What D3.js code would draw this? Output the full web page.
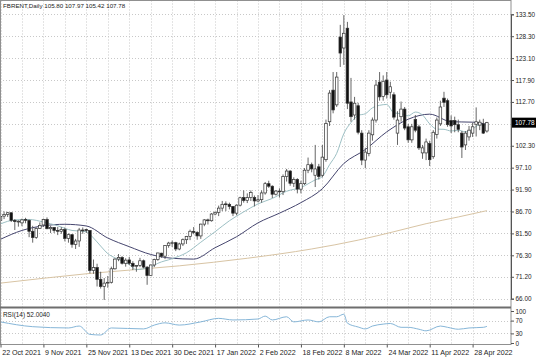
<!DOCTYPE html>
<html><head><meta charset="utf-8">
<script src="https://cdn.jsdelivr.net/npm/d3@7"></script>
<style>body{margin:0;background:#fff}svg{display:block}text{font-family:"Liberation Sans",Arial,sans-serif}</style>
</head><body><svg id="c" width="536" height="357"></svg>
<script>
// ---------- DATA ----------
const dates = [
"22 Oct 2021","25 Oct 2021","26 Oct 2021","27 Oct 2021","28 Oct 2021","29 Oct 2021",
"1 Nov 2021","2 Nov 2021","3 Nov 2021","4 Nov 2021","5 Nov 2021","8 Nov 2021","9 Nov 2021","10 Nov 2021","11 Nov 2021","12 Nov 2021",
"15 Nov 2021","16 Nov 2021","17 Nov 2021","18 Nov 2021","19 Nov 2021","22 Nov 2021","23 Nov 2021","24 Nov 2021","25 Nov 2021","26 Nov 2021","29 Nov 2021","30 Nov 2021",
"1 Dec 2021","2 Dec 2021","3 Dec 2021","6 Dec 2021","7 Dec 2021","8 Dec 2021","9 Dec 2021","10 Dec 2021","13 Dec 2021","14 Dec 2021","15 Dec 2021","16 Dec 2021","17 Dec 2021",
"20 Dec 2021","21 Dec 2021","22 Dec 2021","23 Dec 2021","24 Dec 2021","28 Dec 2021","29 Dec 2021","30 Dec 2021","31 Dec 2021",
"3 Jan 2022","4 Jan 2022","5 Jan 2022","6 Jan 2022","7 Jan 2022","10 Jan 2022","11 Jan 2022","12 Jan 2022","13 Jan 2022","14 Jan 2022",
"17 Jan 2022","18 Jan 2022","19 Jan 2022","20 Jan 2022","21 Jan 2022","24 Jan 2022","25 Jan 2022","26 Jan 2022","27 Jan 2022","28 Jan 2022","31 Jan 2022",
"1 Feb 2022","2 Feb 2022","3 Feb 2022","4 Feb 2022","7 Feb 2022","8 Feb 2022","9 Feb 2022","10 Feb 2022","11 Feb 2022","14 Feb 2022","15 Feb 2022","16 Feb 2022","17 Feb 2022","18 Feb 2022",
"21 Feb 2022","22 Feb 2022","23 Feb 2022","24 Feb 2022","25 Feb 2022","28 Feb 2022",
"1 Mar 2022","2 Mar 2022","3 Mar 2022","4 Mar 2022","7 Mar 2022","8 Mar 2022","9 Mar 2022","10 Mar 2022","11 Mar 2022","14 Mar 2022","15 Mar 2022","16 Mar 2022","17 Mar 2022","18 Mar 2022",
"21 Mar 2022","22 Mar 2022","23 Mar 2022","24 Mar 2022","25 Mar 2022","28 Mar 2022","29 Mar 2022","30 Mar 2022","31 Mar 2022",
"1 Apr 2022","4 Apr 2022","5 Apr 2022","6 Apr 2022","7 Apr 2022","8 Apr 2022","11 Apr 2022","12 Apr 2022","13 Apr 2022","14 Apr 2022",
"18 Apr 2022","19 Apr 2022","20 Apr 2022","21 Apr 2022","22 Apr 2022","25 Apr 2022","26 Apr 2022","27 Apr 2022","28 Apr 2022","29 Apr 2022",
"2 May 2022","3 May 2022","4 May 2022"];

const open = [84.6,85.6,86.0,86.4,84.6,84.2,84.0,84.8,84.6,82.0,80.5,82.7,83.5,84.8,82.6,82.9,82.2,82.0,82.4,80.3,81.2,78.9,79.7,82.3,82.4,82.2,72.7,73.4,70.6,68.9,
69.7,69.9,73.1,75.4,75.8,74.4,75.2,74.4,73.7,73.9,75.0,73.5,71.5,74.0,75.3,76.8,76.1,78.6,79.2,79.3,77.8,79.0,80.0,80.8,82.0,81.75,80.9,83.7,84.7,84.5,
86.1,86.5,87.5,88.5,88.4,87.9,86.3,88.2,90.0,89.3,90.0,90.0,89.2,89.5,91.1,93.3,92.7,90.8,91.55,91.4,95.0,96.3,93.4,94.3,92.0,93.3,96.5,97.8,95.3,97.3,
95.3,99.0,108.0,115.5,112.0,128.1,125.5,130.2,112.7,109.6,111.8,105.3,98.9,100.5,104.9,108.4,117.4,114.0,117.9,115.0,114.4,105.3,109.2,111.0,106.8,103.7,108.5,106.8,100.6,100.6,
102.8,99.7,105.0,107.5,113.6,113.0,108.3,108.3,107.3,105.3,102.5,104.4,105.3,107.4,107.2,107.5,105.80];
const high = [86.0,86.7,86.6,86.5,84.9,84.6,85.0,85.2,84.8,83.3,82.9,84.1,85.0,85.3,83.3,83.0,83.0,83.0,82.9,81.5,81.3,80.2,82.8,82.9,82.6,82.2,75.3,74.3,72.4,70.9,
71.4,73.6,75.6,76.6,76.1,75.6,75.9,74.9,74.0,75.7,75.3,73.7,74.1,75.5,76.9,76.9,78.7,79.5,79.8,79.5,79.3,80.3,80.9,82.4,83.0,82.0,83.8,84.9,85.0,86.3,
86.7,88.1,89.2,89.1,88.8,88.0,88.4,90.2,91.7,91.0,91.7,90.5,90.6,91.7,93.7,94.0,92.9,91.8,92.2,95.5,96.8,96.5,94.8,94.6,94.0,97.0,99.5,98.3,102.5,98.0,
102.5,108.5,115.5,119.8,119.8,131.0,133.3,131.7,118.4,113.9,112.5,106.0,101.8,106.0,109.0,117.9,119.8,119.0,119.8,117.5,115.0,110.5,112.8,111.5,107.5,107.5,109.6,107.3,102.5,104.0,
103.5,106.0,109.0,113.0,115.1,113.5,109.5,109.2,108.5,105.8,105.8,107.0,107.8,111.4,108.5,108.7,107.97];
const low = [84.3,84.9,85.4,84.2,82.3,83.1,83.2,83.9,80.6,79.3,80.2,82.6,83.0,82.5,81.6,81.6,81.1,81.4,79.6,79.3,78.1,77.8,78.3,81.4,81.6,72.0,71.9,68.9,68.4,65.7,
68.6,69.6,72.9,74.9,74.1,73.6,74.0,72.8,72.4,73.5,73.2,69.3,71.5,73.5,75.0,75.7,75.4,78.1,78.3,77.3,77.5,78.5,79.0,79.9,81.3,80.0,80.2,83.2,83.6,84.3,
85.8,85.6,86.8,86.8,87.2,85.6,85.8,87.9,88.8,88.7,89.2,87.9,88.9,88.8,90.7,92.3,89.9,90.5,90.0,90.6,93.8,92.8,92.5,91.0,91.0,93.0,95.8,96.0,92.5,94.3,
94.8,98.5,107.0,110.0,111.5,121.0,121.5,111.0,108.0,108.5,105.0,97.7,97.0,99.8,103.5,107.8,113.0,113.0,113.5,113.5,108.5,102.5,108.0,106.0,103.0,103.0,105.5,101.3,99.2,98.9,
97.5,99.2,104.0,107.0,111.5,106.8,105.3,105.5,105.5,99.4,101.3,103.5,104.4,104.5,106.0,105.1,105.42];
const close = [85.5,86.0,86.4,84.6,84.3,84.4,84.7,84.7,82.0,80.5,82.7,83.4,84.8,82.6,82.9,82.2,82.05,82.4,80.3,81.2,78.9,79.7,82.3,82.25,82.2,72.7,73.4,70.6,68.9,69.7,
69.9,73.1,75.4,75.8,74.4,75.15,74.4,73.7,73.9,75.0,73.5,71.5,74.0,75.3,76.85,76.1,78.6,79.2,79.3,77.8,79.0,80.0,80.8,82.0,81.75,80.9,83.7,84.7,84.5,86.1,
86.5,87.5,88.4,88.4,87.9,86.3,88.2,89.96,89.3,90.0,91.2,89.2,89.5,91.1,93.3,92.7,90.8,91.55,91.4,95.0,96.3,93.4,94.3,92.0,93.3,96.5,97.8,96.8,96.8,95.0,
99.6,107.6,114.8,110.8,118.6,124.3,129.0,112.4,109.2,112.4,105.5,98.9,100.8,105.3,108.4,116.7,113.9,117.6,114.4,116.3,109.1,108.4,111.0,106.5,103.7,106.8,106.0,101.8,101.8,103.2,
99.0,105.5,108.4,111.5,112.6,107.3,107.0,107.3,106.2,102.0,105.3,106.0,106.8,108.0,107.9,105.3,107.78];

// moving averages (bar index -> value)
const maFastIdx = [0,4,8,12,16,20,24,26,28,30,32,34,36,38,40,42,44,48,52,56,60,64,68,72,76,80,84,88,90,92,94,96,98,100,102,104,106,108,110,112,114,116,118,120,122,124,126,128,130,132,134,136];
const maFastVal = [83.75,84.7,84.8,84.2,83.3,82.2,81.9,80.4,78.5,76.7,75.7,75.0,74.1,72.9,73.1,73.5,74.4,75.5,76.9,79.4,81.9,84.5,86.6,88.5,89.8,91.5,92.4,94.2,95.0,97.8,100.5,105.2,107.8,109.5,109.9,111.3,111.9,112.1,110.1,109.9,109.4,110.3,109.6,107.5,106.25,106.2,105.8,106.0,105.6,106.3,107.3,107.2];
const maSlowIdx = [0,6,12,18,24,30,36,42,48,54,60,66,72,78,84,90,96,102,108,114,120,126,132,136];
const maSlowVal = [80.1,82.2,83.3,83.66,83.26,80.4,78.35,76.5,75.6,75.4,78.1,80.7,84.0,86.3,88.8,92.1,98.1,101.4,105.6,108.6,109.8,108.0,107.9,107.35];
const maLongIdx = [0,25,50,69,87,100,110,119,128,136];
const maLongVal = [69.7,72.0,73.8,75.6,77.8,79.9,81.9,83.8,85.4,86.9];

const rsiIdx = [0,9,19,22,25,28,31,40,43,46,50,56,61,65,72,74,76,80,82,86,89,92,94,96,97,100,102,104,107,109,112,114,117,119,123,125,128,131,135,136];
const rsiVal = [66,51,47,53,27,25,47,44,56,63,56,66,77,72,75,84,72,82,66,72,66,82,82,90,62,50,44,53,59,61,49,49,43,38,53,49,43,47,49,52];

const priceTicks = [133.50,128.30,123.10,117.90,112.70,107.50,102.30,97.10,91.90,86.70,81.50,76.30,71.20,66.00];
const priceLabels = ["133.50","128.30","123.10","117.90","112.70","","102.30","97.10","91.90","86.70","81.50","76.30","71.20","66.00"];
const rsiTicks = [100,70,30,0];
const xTickLabels = ["22 Oct 2021","9 Nov 2021","25 Nov 2021","13 Dec 2021","30 Dec 2021","17 Jan 2022","2 Feb 2022","18 Feb 2022","8 Mar 2022","24 Mar 2022","11 Apr 2022","28 Apr 2022"];
const gridDates = dates.filter((d,i)=> i%6===0);
const title = "FBRENT,Daily 105.80 107.97 105.42 107.78";
const rsiTitle = "RSI(14) 52.0040";
const lastPrice = "107.78";

// ---------- LAYOUT ----------
const svg = d3.select('#c');
const R = 511, mainTop = 0.5, mainBot = 306.5, rsiTop = 308.5, rsiBot = 344.5;
const x = d3.scalePoint().domain(dates).range([0.5, 486.9]);
const y = d3.scaleLinear().domain([66.0, 133.5]).range([298.7, 14.3]);
const yr = d3.scaleLinear().domain([0, 100]).range([343, 311]);
const gridCol = "#c8c8c8";

// vertical grid
svg.append('g').selectAll('line').data(gridDates).join('line')
  .attr('x1', d=>Math.round(x(d))+0.5).attr('x2', d=>Math.round(x(d))+0.5)
  .attr('y1', mainTop).attr('y2', rsiBot)
  .attr('stroke', gridCol).attr('stroke-width',1).attr('stroke-dasharray','1,2');
// horizontal grid
svg.append('g').selectAll('line').data(priceTicks).join('line')
  .attr('x1', 0).attr('x2', R).attr('y1', d=>Math.round(y(d))+0.5).attr('y2', d=>Math.round(y(d))+0.5)
  .attr('stroke', gridCol).attr('stroke-width',1).attr('stroke-dasharray','1,2');
svg.append('g').selectAll('line').data([70,30]).join('line')
  .attr('x1', 0).attr('x2', R).attr('y1', d=>Math.round(yr(d))+0.5).attr('y2', d=>Math.round(yr(d))+0.5)
  .attr('stroke', gridCol).attr('stroke-width',1).attr('stroke-dasharray','1,2');

// moving averages
const lineGen = (idx, vals, sc) => d3.line().curve(d3.curveMonotoneX)
  .x((d,i)=>x(dates[idx[i]])).y(d=>sc(d))(vals);
svg.append('path').attr('d', lineGen(maLongIdx, maLongVal, y)).attr('fill','none').attr('stroke','#d8c4a4').attr('stroke-width',1);
svg.append('path').attr('d', lineGen(maSlowIdx, maSlowVal, y)).attr('fill','none').attr('stroke','#45456e').attr('stroke-width',1);
svg.append('path').attr('d', lineGen(maFastIdx, maFastVal, y)).attr('fill','none').attr('stroke','#9dc0c4').attr('stroke-width',1);

// candles
const bw = 2.6;
const cg = svg.append('g');
cg.selectAll('line').data(dates).join('line')
  .attr('x1', d=>x(d)).attr('x2', d=>x(d))
  .attr('y1', (d,i)=>y(high[i])).attr('y2', (d,i)=>y(low[i]))
  .attr('stroke', '#555').attr('stroke-width', 0.9);
cg.selectAll('rect').data(dates).join('rect')
  .attr('x', d=>x(d)-bw/2).attr('width', bw)
  .attr('y', (d,i)=>y(Math.max(open[i],close[i])))
  .attr('height', (d,i)=>Math.max(0.8, Math.abs(y(open[i])-y(close[i]))))
  .attr('fill', (d,i)=> close[i]>=open[i] ? '#fff' : '#111')
  .attr('stroke', '#333').attr('stroke-width', 0.7);

// RSI line
svg.append('path').attr('d', lineGen(rsiIdx, rsiVal, yr)).attr('fill','none').attr('stroke','#86b6d8').attr('stroke-width',1);

// frames
svg.append('rect').attr('x',0.5).attr('y',0.5).attr('width',R-0.5).attr('height',rsiBot-0.5)
  .attr('fill','none').attr('stroke','#909090').attr('stroke-width',1);
svg.append('line').attr('x1',0).attr('x2',R).attr('y1',307.5).attr('y2',307.5).attr('stroke','#6e6e6e').attr('stroke-width',2);

const fam = 'Liberation Sans, Arial, sans-serif';
// right price axis
const ya = svg.append('g').attr('transform',`translate(${R},0)`)
  .call(d3.axisRight(y).tickValues(priceTicks).tickSize(3).tickPadding(1.5).tickFormat((d,i)=>priceLabels[i]));
ya.select('.domain').attr('stroke','#555');
ya.selectAll('line').attr('stroke','#555');
ya.selectAll('text').attr('font-size','6.4px').attr('fill','#222').attr('font-family',fam);

const yra = svg.append('g').attr('transform',`translate(${R},0)`)
  .call(d3.axisRight(yr).tickValues(rsiTicks).tickSize(3).tickPadding(1.5).tickFormat(d3.format('d')));
yra.select('.domain').remove();
yra.selectAll('line').attr('stroke','#555');
yra.selectAll('text').attr('font-size','6.4px').attr('fill','#222').attr('font-family',fam);

// current price box
const yp = y(+lastPrice);
svg.append('rect').attr('x',R+1).attr('y',yp-5).attr('width',536-R-1).attr('height',10).attr('fill','#000');
svg.append('text').attr('x',R+4).attr('y',yp+2.3).attr('fill','#fff').attr('font-size','6.4px').text(lastPrice);

// bottom axis
const xa = svg.append('g').attr('transform',`translate(0,${rsiBot})`)
  .call(d3.axisBottom(x).tickValues(xTickLabels).tickSize(3).tickPadding(2));
xa.select('.domain').remove();
xa.selectAll('line').attr('stroke','#555');
xa.selectAll('text').attr('text-anchor','start').attr('dx','1.2').attr('font-size','7.1px').attr('fill','#222').attr('font-family',fam);

// titles
svg.append('text').attr('x',3).attr('y',8).attr('font-size','6.2px').attr('fill','#222').text(title);
svg.append('text').attr('x',3).attr('y',316.5).attr('font-size','6.4px').attr('fill','#222').text(rsiTitle);
</script></body></html>
